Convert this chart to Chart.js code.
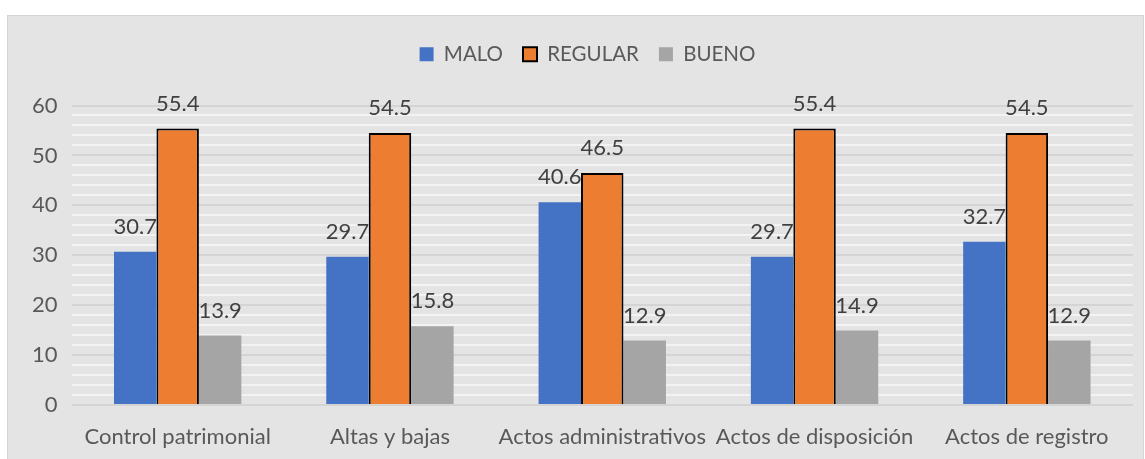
<!DOCTYPE html>
<html>
<head>
<meta charset="utf-8">
<script src="https://cdn.jsdelivr.net/npm/chart.js@4.4.0/dist/chart.umd.min.js"></script>
<style>
  html, body { margin: 0; padding: 0; background: #ffffff; width: 1145px; height: 459px; overflow: hidden; }
  #frame { position: absolute; left: 7px; top: 15px; width: 1137px; height: 450px; background: #e4e4e4; border: 1px solid #d4d4d4; box-sizing: border-box; }
  #wrap { position: absolute; left: 0; top: 0; width: 1145px; height: 459px; }
</style>
</head>
<body>
<div id="frame"></div>
<div id="wrap"><canvas id="c" width="1145" height="459"></canvas></div>
<script>
const categories = ["Control patrimonial", "Altas y bajas", "Actos administrativos", "Actos de disposición", "Actos de registro"];
const malo = [30.7, 29.7, 40.6, 29.7, 32.7];
const regular = [55.4, 54.5, 46.5, 55.4, 54.5];
const bueno = [13.9, 15.8, 12.9, 14.9, 12.9];
const seriesNames = ["MALO", "REGULAR", "BUENO"];
const yTicks = [0, 10, 20, 30, 40, 50, 60];

const FONT = "Lato, 'Open Sans', sans-serif";
const FS = 22;
const LFS = 20.5;

const labelPlugin = {
  id: 'valueLabels',
  afterDatasetsDraw(chart) {
    const ctx = chart.ctx;
    ctx.save();
    ctx.font = FS + "px " + FONT;
    ctx.fillStyle = "#404040";
    ctx.textAlign = "center";
    ctx.textBaseline = "middle";
    chart.data.datasets.forEach((ds, i) => {
      const meta = chart.getDatasetMeta(i);
      meta.data.forEach((bar, j) => {
        ctx.fillText(ds.data[j].toFixed(1), bar.x, bar.y - 25);
      });
    });
    ctx.restore();
  }
};

const legendSpace = {
  id: 'legendSpace',
  beforeInit(chart) {
    const lg = chart.legend;
    const origFit = lg.fit;
    lg.fit = function () {
      origFit.call(this);
      this.height += 31;
    };
    const origDraw = lg.draw;
    lg.draw = function () {
      const ctx = this.ctx;
      ctx.save();
      ctx.translate(12, 0);
      origDraw.call(this);
      ctx.restore();
    };
  }
};

new Chart(document.getElementById('c'), {
  type: 'bar',
  data: {
    labels: categories,
    datasets: [
      { label: seriesNames[0], data: malo, backgroundColor: '#4472c4', borderWidth: 0 },
      { label: seriesNames[1], data: regular, backgroundColor: '#ed7d31', borderColor: '#000000', borderWidth: 2 },
      { label: seriesNames[2], data: bueno, backgroundColor: '#a5a5a5', borderWidth: 0 }
    ]
  },
  options: {
    responsive: false,
    animation: false,
    devicePixelRatio: 1,
    layout: { padding: { left: 18, right: 12, top: 24, bottom: 0 } },
    datasets: { bar: { barPercentage: 1.0, categoryPercentage: 0.6 } },
    plugins: {
      legend: {
        display: true,
        position: 'top',
        labels: {
          font: { size: LFS, family: FONT },
          color: '#595959',
          boxWidth: 14,
          boxHeight: 14,
          padding: 20
        }
      },
      tooltip: { enabled: false }
    },
    scales: {
      x: {
        grid: { display: false, drawTicks: false, tickLength: 0 },
        border: { display: false },
        ticks: { font: { size: FS, family: FONT }, color: '#595959', padding: 19, maxRotation: 0, autoSkip: false },
        afterFit: (s) => { s.height = 54; }
      },
      y: {
        min: 0, max: 60,
        border: { display: false },
        grid: {
          color: (c) => (c.tick && yTicks.includes(c.tick.value)) ? '#d4d4d4' : '#f3f3f3',
          lineWidth: 2,
          drawTicks: false
        },
        ticks: {
          stepSize: 2,
          autoSkip: false,
          font: { size: FS, family: FONT },
          color: '#595959',
          padding: 14,
          callback: (v) => yTicks.includes(v) ? String(v) : ''
        }
      }
    }
  },
  plugins: [labelPlugin, legendSpace]
});
</script>
</body>
</html>
